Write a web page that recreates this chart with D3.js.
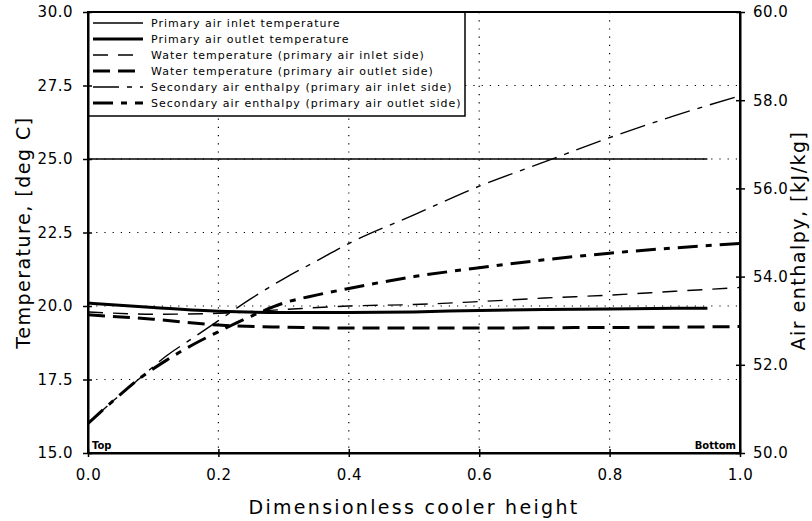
<!DOCTYPE html>
<html>
<head>
<meta charset="utf-8">
<script src="https://cdn.jsdelivr.net/npm/d3@7"></script>
<style>
  body { margin: 0; background: #fff; }
  svg { display: block; font-family: "DejaVu Sans", sans-serif; }
</style>
</head>
<body>
<svg width="812" height="521"></svg>
<script>
// x positions (dimensionless cooler height)
const xTemp = [0, 0.1, 0.2, 0.3, 0.4, 0.5, 0.6, 0.7, 0.8, 0.9, 0.95];
const xWater = [0, 0.1, 0.2, 0.3, 0.4, 0.5, 0.6, 0.7, 0.8, 0.9, 1.0];
const xEnth = [0, 0.04, 0.08, 0.12, 0.16, 0.2, 0.25, 0.3, 0.35, 0.4, 0.5, 0.6, 0.7, 0.8, 0.9, 1.0];

// temperatures, deg C (left axis)
const airInlet  = [25.0, 25.0, 25.0, 25.0, 25.0, 25.0, 25.0, 25.0, 25.0, 25.0, 25.0];
const airOutlet = [20.1, 19.95, 19.82, 19.78, 19.78, 19.8, 19.85, 19.88, 19.9, 19.92, 19.92];
const waterInletSide  = [19.8, 19.72, 19.75, 19.88, 20.0, 20.05, 20.15, 20.27, 20.37, 20.5, 20.63];
const waterOutletSide = [19.7, 19.55, 19.35, 19.28, 19.25, 19.25, 19.25, 19.26, 19.27, 19.28, 19.3];

// secondary air enthalpy, kJ/kg (right axis)
const enthInletSide  = [50.67, 51.2, 51.7, 52.2, 52.6, 53.0, 53.5, 53.95, 54.35, 54.75, 55.4, 56.05, 56.6, 57.15, 57.65, 58.1];
const enthOutletSide = [50.67, 51.2, 51.7, 52.1, 52.45, 52.75, 53.1, 53.4, 53.58, 53.73, 54.0, 54.2, 54.38, 54.53, 54.65, 54.75];

const xTicks = [0, 0.2, 0.4, 0.6, 0.8, 1.0];
const yTicks = [15, 17.5, 20, 22.5, 25, 27.5, 30];
const y2Ticks = [50, 52, 54, 56, 58, 60];

const legendLabels = [
  "Primary air inlet temperature",
  "Primary air outlet temperature",
  "Water temperature (primary air inlet side)",
  "Water temperature (primary air outlet side)",
  "Secondary air enthalpy (primary air inlet side)",
  "Secondary air enthalpy (primary air outlet side)"
];

const svg = d3.select("svg"),
      margin = {top: 12, right: 72, bottom: 68, left: 88},
      width = +svg.attr("width") - margin.left - margin.right,
      height = +svg.attr("height") - margin.top - margin.bottom,
      g = svg.append("g").attr("transform", `translate(${margin.left},${margin.top})`);

const x = d3.scaleLinear().domain([0, 1]).range([0, width]),
      y = d3.scaleLinear().domain([15, 30]).range([height, 0]),
      y2 = d3.scaleLinear().domain([50, 60]).range([height, 0]);

// series styles
const series = [
  {xs: xTemp,  ys: airInlet,        sc: y,  w: 1.3, dash: null},
  {xs: xTemp,  ys: airOutlet,       sc: y,  w: 3,   dash: null},
  {xs: xWater, ys: waterInletSide,  sc: y,  w: 1.4, dash: "15,10"},
  {xs: xWater, ys: waterOutletSide, sc: y,  w: 3,   dash: "17,8"},
  {xs: xEnth,  ys: enthInletSide,   sc: y2, w: 1.4, dash: "26,8,5,8"},
  {xs: xEnth,  ys: enthOutletSide,  sc: y2, w: 3,   dash: "20,8,6,8"}
];

// grid
g.append("g").selectAll("line")
  .data(yTicks.slice(1, -1))
  .enter().append("line")
  .attr("x1", 0).attr("x2", width)
  .attr("y1", d => y(d)).attr("y2", d => y(d))
  .attr("stroke", "#000").attr("stroke-width", 1.2)
  .attr("stroke-dasharray", "1.2,7");

g.append("g").selectAll("line")
  .data(xTicks.slice(1, -1))
  .enter().append("line")
  .attr("y1", 0).attr("y2", height)
  .attr("x1", d => x(d)).attr("x2", d => x(d))
  .attr("stroke", "#000").attr("stroke-width", 1.2)
  .attr("stroke-dasharray", "1.2,7");

// lines
series.forEach(s => {
  const line = d3.line()
    .x((d, i) => x(s.xs[i]))
    .y(d => s.sc(d))
    .curve(d3.curveMonotoneX);
  g.append("path")
    .datum(s.ys)
    .attr("fill", "none")
    .attr("stroke", "#000")
    .attr("stroke-width", s.w)
    .attr("stroke-dasharray", s.dash)
    .attr("d", line);
});

// legend
const leg = g.append("g");
leg.append("rect")
  .attr("x", 0).attr("y", 0)
  .attr("width", 377).attr("height", 104)
  .attr("fill", "#fff").attr("stroke", "#000").attr("stroke-width", 1.5);

legendLabels.forEach((lab, i) => {
  const ly = 11 + i * 16;
  leg.append("line")
    .attr("x1", 5).attr("x2", 55)
    .attr("y1", ly).attr("y2", ly)
    .attr("stroke", "#000")
    .attr("stroke-width", series[i].w)
    .attr("stroke-dasharray", series[i].dash);
  leg.append("text")
    .attr("x", 63).attr("y", ly + 4)
    .attr("font-size", 11)
    .attr("letter-spacing", 1)
    .text(lab);
});

// frame
g.append("rect")
  .attr("width", width).attr("height", height)
  .attr("fill", "none").attr("stroke", "#000").attr("stroke-width", 2);

// axes
const axisFont = 15;
const xAxis = g.append("g")
  .attr("transform", `translate(0,${height})`)
  .call(d3.axisBottom(x).tickValues(xTicks).tickFormat(d3.format(".1f")).tickSizeInner(4).tickSizeOuter(0).tickPadding(6));
const yAxis = g.append("g")
  .call(d3.axisLeft(y).tickValues(yTicks).tickFormat(d3.format(".1f")).tickSizeInner(5).tickSizeOuter(0).tickPadding(10));
const y2Axis = g.append("g")
  .attr("transform", `translate(${width},0)`)
  .call(d3.axisRight(y2).tickValues(y2Ticks).tickFormat(d3.format(".1f")).tickSizeInner(5).tickSizeOuter(0).tickPadding(8));

[xAxis, yAxis, y2Axis].forEach(a => {
  a.select(".domain").attr("stroke-width", 2);
  a.selectAll(".tick line").attr("stroke-width", 1.5);
  a.selectAll(".tick text").attr("font-size", axisFont).attr("font-family", "DejaVu Sans")
    .attr("letter-spacing", 0.5);
});
// ticks cross the axis
xAxis.selectAll(".tick line").attr("y1", -4);
yAxis.selectAll(".tick line").attr("x1", 4);
y2Axis.selectAll(".tick line").attr("x1", -4);
xAxis.selectAll(".tick text").attr("dy", "1.1em");

// axis titles
svg.append("text")
  .attr("x", margin.left + width / 2).attr("y", 514)
  .attr("text-anchor", "middle").attr("font-size", 19)
  .attr("letter-spacing", 2.3)
  .text("Dimensionless cooler height");

svg.append("text")
  .attr("transform", `translate(30,${margin.top + height / 2}) rotate(-90)`)
  .attr("text-anchor", "middle").attr("font-size", 19)
  .attr("letter-spacing", 1.5)
  .text("Temperature, [deg C]");

svg.append("text")
  .attr("transform", `translate(805,${margin.top + height / 2 + 8}) rotate(-90)`)
  .attr("text-anchor", "middle").attr("font-size", 19)
  .attr("letter-spacing", 1.5)
  .text("Air enthalpy, [kJ/kg]");

// end labels
g.append("text").attr("x", 4).attr("y", height - 4)
  .attr("font-size", 10).attr("font-weight", "bold").text("Top");
g.append("text").attr("x", width - 4).attr("y", height - 4)
  .attr("text-anchor", "end").attr("font-size", 10).attr("font-weight", "bold").text("Bottom");
</script>
</body>
</html>
